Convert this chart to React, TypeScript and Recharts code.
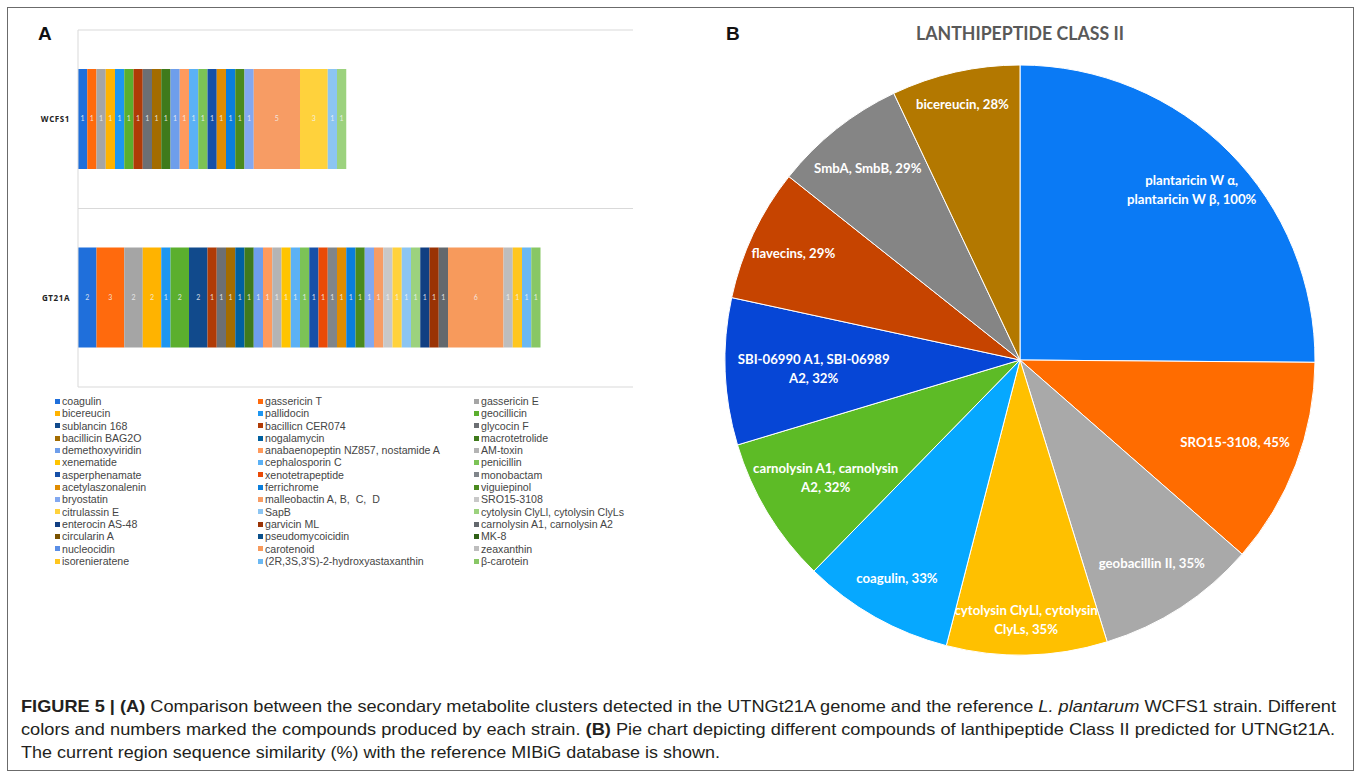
import React from 'react';
import { BarChart, Bar, XAxis, YAxis, CartesianGrid, LabelList, PieChart, Pie, Cell } from 'recharts';

// Panel A: secondary metabolite clusters per strain
const strains = ['WCFS1', 'GT21A'];

const compounds = [
  'coagulin', 'gassericin T', 'gassericin E',
  'bicereucin', 'pallidocin', 'geocillicin',
  'sublancin 168', 'bacillicn CER074', 'glycocin F',
  'bacillicin BAG2O', 'nogalamycin', 'macrotetrolide',
  'demethoxyviridin', 'anabaenopeptin NZ857, nostamide A', 'AM-toxin',
  'xenematide', 'cephalosporin C', 'penicillin',
  'asperphenamate', 'xenotetrapeptide', 'monobactam',
  'acetylaszonalenin', 'ferrichrome', 'viguiepinol',
  'bryostatin', 'malleobactin A, B,  C,  D', 'SRO15-3108',
  'citrulassin E', 'SapB', 'cytolysin ClyLl, cytolysin ClyLs',
  'enterocin AS-48', 'garvicin ML', 'carnolysin A1, carnolysin A2',
  'circularin A', 'pseudomycoicidin', 'MK-8',
  'nucleocidin', 'carotenoid', 'zeaxanthin',
  'isorenieratene', '(2R,3S,3\'S)-2-hydroxyastaxanthin', 'β-carotein',
];

const compoundColors = [
  '#1F6FDB', '#FF6A0D', '#A5A5A5',
  '#FFB300', '#1E96F0', '#5BAF2E',
  '#114A8C', '#B03B06', '#6C6F73',
  '#A36C00', '#00609F', '#3F7A1B',
  '#6E9EEB', '#FF9A5C', '#B4B4B4',
  '#FFC400', '#5BB1F5', '#7CC356',
  '#1650A8', '#EA4A07', '#80858A',
  '#E08C00', '#0A7EDC', '#4A8A1E',
  '#82A8F0', '#F79C64', '#C8C8C8',
  '#FFD23C', '#8CC5F2', '#9CD27E',
  '#113F82', '#9A3305', '#63686D',
  '#7A5200', '#0A4F8A', '#2F6016',
  '#5A8EE6', '#F79A5C', '#BDBDBD',
  '#FFC61E', '#6BB8F2', '#88C765',
];

const wcfs1Counts: (number | null)[] = [
  1, 1, 1, 1, 1, 1, 0, 1, 1, 1, 0, 1, 1, 1, 0,
  0, 1, 1, 1, 0, 0, 1, 1, 1, 1, 5, 0, 3, 1, 1,
  null, null, null, null, null, null, null, null, null, null, null, null,
];

const gt21aCounts: (number | null)[] = [
  2, 3, 2, 2, 1, 2, 2, 1, 1, 1, 1, 1, 1, 1, 1,
  1, 1, 1, 1, 1, 1, 1, 1, 1, 1, 1, 1, 1, 1, 1,
  1, 1, 1, 0, 0, 0, 0, 6, 1, 1, 1, 1,
];

// Panel B: lanthipeptide class II similarity (%)
const lanthiNames = [
  'plantaricin W α, plantaricin W β', 'SRO15-3108', 'geobacillin II',
  'cytolysin ClyLl, cytolysin ClyLs', 'coagulin', 'carnolysin A1, carnolysin A2',
  'SBI-06990 A1, SBI-06989 A2', 'flavecins', 'SmbA, SmbB', 'bicereucin',
];
const lanthiSimilarity = [100, 45, 35, 35, 33, 32, 32, 29, 29, 28];
const lanthiColors = [
  '#0A7AF5', '#FF6C00', '#A9A9A9', '#FFC000', '#06A8FF',
  '#5DBB26', '#0646D6', '#C64400', '#858585', '#B37800',
];
// where Excel's "best fit" put each label, as a share of the radius
const labelRadiusRatio = [0.82, 0.78, 0.82, 0.88, 0.85, 0.77, 0.7, 0.85, 0.83, 0.89];

const barData = strains.map((strain, r) => {
  const row: Record<string, any> = { strain };
  const counts = r === 0 ? wcfs1Counts : gt21aCounts;
  compounds.forEach((_, i) => { row[`s${i}`] = counts[i]; });
  return row;
});

const pieData = lanthiNames.map((name, i) => ({ name, value: lanthiSimilarity[i] }));

const wrap = (text: string, max: number) => {
  const words = text.split(' ');
  const lines: string[] = [];
  let cur = '';
  words.forEach(w => {
    const next = cur ? cur + ' ' + w : w;
    if (next.length > max && cur) {
      lines.push(cur);
      cur = w;
    } else {
      cur = next;
    }
  });
  if (cur) lines.push(cur);
  return lines;
};

const RAD = Math.PI / 180;

const renderPieLabel = (props: any) => {
  const { cx, cy, midAngle, outerRadius, name, value, index } = props;
  const r = outerRadius * (labelRadiusRatio[index] ?? 0.82);
  const x = cx + r * Math.cos(-midAngle * RAD);
  const y = cy + r * Math.sin(-midAngle * RAD);
  const lines = wrap(`${name}, ${value}%`, 26);
  const lh = 19;
  return (
    <text
      x={x}
      y={y}
      textAnchor="middle"
      dominantBaseline="central"
      fill="#fff"
      fontFamily="Lato, 'Open Sans', sans-serif"
      fontWeight={700}
      fontSize={13.2}
    >
      {lines.map((l, k) => (
        <tspan key={k} x={x} y={y + (k - (lines.length - 1) / 2) * lh}>{l}</tspan>
      ))}
    </text>
  );
};

const Legend3Col = () => (
  <div
    style={{
      position: 'absolute',
      left: 55,
      top: 395,
      display: 'grid',
      gridTemplateColumns: '203px 216px 200px',
      gridAutoRows: '12.3px',
      fontFamily: "'Liberation Sans', Arial, sans-serif",
      fontSize: 10.6,
      color: '#454545',
      lineHeight: '12.3px',
    }}
  >
    {compounds.map((c, i) => (
      <div key={c} style={{ display: 'flex', alignItems: 'center', whiteSpace: 'pre' }}>
        <span style={{ width: 5, height: 5, background: compoundColors[i], marginRight: 2, flex: 'none' }} />
        {c}
      </div>
    ))}
  </div>
);

export default function App() {
  return (
    <div style={{ position: 'absolute', left: 0, top: 0, width: 1360, height: 775, background: '#fff', overflow: 'hidden' }}>
      <div style={{ position: 'absolute', left: 7, top: 7, width: 1345, height: 762, border: '1px solid #6b6b6b' }} />

      {/* Panel A */}
      <div style={{ position: 'absolute', left: 0, top: 0 }}>
        <BarChart
          width={640}
          height={395}
          data={barData}
          layout="vertical"
          margin={{ top: 30, right: 7, bottom: 8, left: 0 }}
          barSize={100}
        >
          <CartesianGrid
            vertical={false}
            stroke="#D9D9D9"
            horizontalCoordinatesGenerator={({ offset }: any) => [
              offset.top,
              offset.top + offset.height / 2,
              offset.top + offset.height,
            ]}
          />
          <XAxis type="number" domain={[0, 60]} hide />
          <YAxis
            type="category"
            dataKey="strain"
            width={78}
            axisLine={{ stroke: '#D9D9D9' }}
            tickLine={false}
            tick={{ fontSize: 8, fontWeight: 700, fill: '#222', fontFamily: "'Open Sans', sans-serif", letterSpacing: 0.6 }}
          />
          {compounds.map((c, i) => (
            <Bar key={c} dataKey={`s${i}`} name={c} stackId="a" fill={compoundColors[i]} isAnimationActive={false}>
              <LabelList
                dataKey={`s${i}`}
                position="center"
                fill="#f4f4f4"
                fillOpacity={0.85}
                fontSize={7}
                fontFamily="Lato, sans-serif"
                formatter={(v: any) => (v === null || v === undefined ? '' : String(v))}
              />
            </Bar>
          ))}
        </BarChart>
      </div>
      <Legend3Col />

      {/* Panel B */}
      <div style={{ position: 'absolute', left: 700, top: 0 }}>
        <PieChart width={640} height={680} margin={{ top: 0, right: 0, bottom: 0, left: 0 }}>
          <Pie
            data={pieData}
            dataKey="value"
            nameKey="name"
            cx={320}
            cy={360}
            outerRadius={295}
            startAngle={90}
            endAngle={-270}
            stroke="#ffffff"
            strokeWidth={1}
            label={renderPieLabel}
            labelLine={false}
            isAnimationActive={false}
          >
            {pieData.map((d, i) => (
              <Cell key={d.name} fill={lanthiColors[i]} />
            ))}
          </Pie>
        </PieChart>
      </div>

      {/* Texts: panel letters, title, caption */}
      <svg width={1360} height={775} style={{ position: 'absolute', left: 0, top: 0, pointerEvents: 'none' }}>
        <text x={38} y={40} fontFamily="'Liberation Sans', Arial, sans-serif" fontWeight={700} fontSize={19} fill="#111">A</text>
        <text x={726} y={40} fontFamily="'Liberation Sans', Arial, sans-serif" fontWeight={700} fontSize={19} fill="#111">B</text>
        <text
          x={916}
          y={40}
          textLength={208}
          lengthAdjust="spacingAndGlyphs"
          fontFamily="Lato, 'Open Sans', sans-serif"
          fontWeight={700}
          fontSize={19}
          fill="#595959"
        >
          LANTHIPEPTIDE CLASS II
        </text>
        <g fontFamily="'Liberation Sans', Arial, sans-serif" fontSize={16.5} fill="#231F20">
          <text x={21} y={712} textLength={1315} lengthAdjust="spacingAndGlyphs">
            <tspan fontWeight={700}>FIGURE 5 | (A)</tspan>
            <tspan> Comparison between the secondary metabolite clusters detected in the UTNGt21A genome and the reference </tspan>
            <tspan fontStyle="italic">L. plantarum</tspan>
            <tspan> WCFS1 strain. Different</tspan>
          </text>
          <text x={21} y={735} textLength={1314} lengthAdjust="spacingAndGlyphs">
            <tspan>colors and numbers marked the compounds produced by each strain. </tspan>
            <tspan fontWeight={700}>(B)</tspan>
            <tspan> Pie chart depicting different compounds of lanthipeptide Class II predicted for UTNGt21A.</tspan>
          </text>
          <text x={21} y={758} textLength={699} lengthAdjust="spacingAndGlyphs">
            The current region sequence similarity (%) with the reference MIBiG database is shown.
          </text>
        </g>
      </svg>
    </div>
  );
}
